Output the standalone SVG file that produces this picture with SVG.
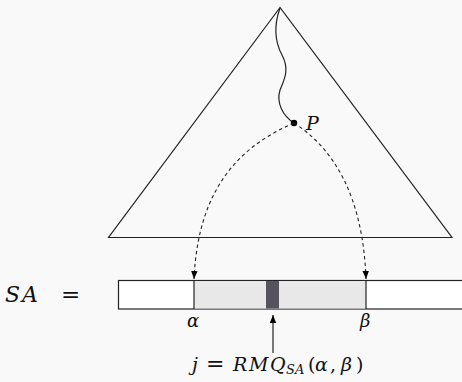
<svg xmlns="http://www.w3.org/2000/svg" width="462" height="382" viewBox="0 0 462 382">
<defs>
<marker id="ah" viewBox="0 0 10 10" refX="10" refY="5" markerWidth="8" markerHeight="8" markerUnits="userSpaceOnUse" orient="auto">
<path d="M0,1 L10,5 L0,9 Z" fill="#000"/>
</marker>
</defs>
<style>
.ln{fill:none;stroke:#222;stroke-width:1.2}
.dash{fill:none;stroke:#222;stroke-width:1.1;stroke-dasharray:3.5,3}
text{font-family:'DejaVu Serif','Liberation Serif',serif;fill:#111}
.m{font-style:italic}
.r{font-style:normal}
</style>
<rect width="462" height="382" fill="#f9f9f9"/>
<g id="tree">
<path class="ln" d="M280,7.5 L108.5,237.5 L452,237.5 Z"/>
<path class="ln" d="M280,8 C274,25 274,40 282,55 C290,70 284,80 280,90 C276,103 283,116 294,123"/>
</g>
<g id="P">
<circle cx="294" cy="123" r="3.2" fill="#000"/>
<text class="m" x="306" y="130" font-size="19">P</text>
</g>
<g id="array">
<text class="m" font-size="22" y="302"><tspan x="5">S</tspan><tspan x="22">A</tspan></text>
<text class="r" x="61" y="302" font-size="23">=</text>
<rect x="118.5" y="280.5" width="350" height="28.5" fill="#fff" stroke="#222" stroke-width="1.2"/>
<rect x="194" y="281" width="172" height="27.5" fill="#e8e8e8"/>
<rect x="266" y="281" width="13" height="27.5" fill="#56535f"/>
<line class="ln" x1="194" y1="280.5" x2="194" y2="309"/>
<line class="ln" x1="366" y1="280.5" x2="366" y2="309"/>
<text class="m" x="187" y="327" font-size="18">α</text>
<text class="m" x="360" y="327" font-size="18">β</text>
<text class="m" y="371" font-size="19"><tspan x="192">j</tspan><tspan class="r" x="206" font-size="22">=</tspan><tspan x="233">R</tspan><tspan x="249">M</tspan><tspan x="270">Q</tspan><tspan x="286" font-size="13" dy="3">SA</tspan><tspan class="r" x="308" dy="-3">(</tspan><tspan x="315">α</tspan><tspan class="r" x="330">,</tspan><tspan x="341">β</tspan><tspan class="r" x="356">)</tspan></text>
</g>
<g id="connectors">
<path class="dash" d="M294,123 C238,147 198,190 194,279" marker-end="url(#ah)"/>
<path class="dash" d="M294,123 C333,148 363,195 366,279" marker-end="url(#ah)"/>
<line class="ln" x1="273" y1="353" x2="273" y2="315" marker-end="url(#ah)"/>
</g>
</svg>
